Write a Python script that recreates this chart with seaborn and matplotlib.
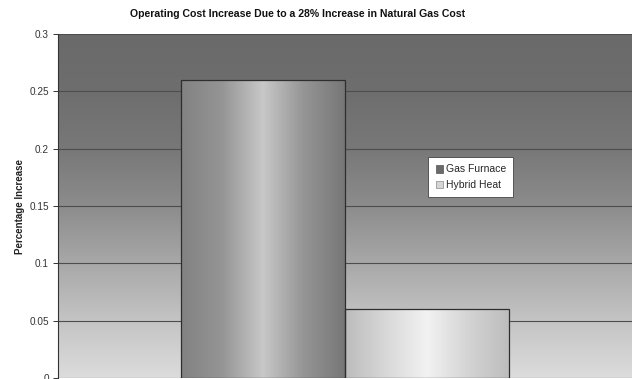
import numpy as np
import pandas as pd
import matplotlib
matplotlib.use("Agg")
import matplotlib.pyplot as plt
import seaborn as sns
from matplotlib.colors import LinearSegmentedColormap
from matplotlib.patches import Patch

title = "Operating Cost Increase Due to a 28% Increase in Natural Gas Cost"
ylabel = "Percentage Increase"
category = ["Heating", "Heating"]
systems = ["Gas Furnace", "Hybrid Heat"]
values = [0.26, 0.06]
yticks = [0, 0.05, 0.1, 0.15, 0.2, 0.25, 0.3]
ytick_labels = ["0", "0.05", "0.1", "0.15", "0.2", "0.25", "0.3"]

sns.set_theme(style="white")
plt.rcParams["font.family"] = ["Liberation Sans", "DejaVu Sans"]

fig = plt.figure(figsize=(6.32, 3.79), dpi=100)
ax = fig.add_axes([58 / 632, 1 / 379, 574 / 632, 344 / 379])

df = pd.DataFrame({"cat": category, "system": systems, "value": values})
sns.barplot(data=df, x="cat", y="value", hue="system",
            palette=["#7a7a7a", "#d4d4d4"], width=0.57,
            edgecolor="#2e2e2e", linewidth=0.9, ax=ax, legend=False)

# background vertical gradient
bg_cmap = LinearSegmentedColormap.from_list(
    "bg", ["#dcdcdc", "#c4c4c4", "#a8a8a8", "#8c8c8c", "#787878", "#6e6e6e", "#6a6a6a"])
grad = np.linspace(0, 1, 256).reshape(-1, 1)
ax.imshow(grad, extent=[0, 1, 0, 1], transform=ax.transAxes, origin="lower",
          cmap=bg_cmap, aspect="auto", zorder=-10, interpolation="bicubic")

# cylinder-like horizontal shading of bars
bar_cmaps = [
    LinearSegmentedColormap.from_list("b1", ["#828282", "#959595", "#c8c8c8", "#959595", "#777777"]),
    LinearSegmentedColormap.from_list("b2", ["#bcbcbc", "#d8d8d8", "#f2f2f2", "#d4d4d4", "#bdbdbd"]),
]
hgrad = np.linspace(0, 1, 256).reshape(1, -1)
bars = [p for p in ax.patches if p.get_height() > 0]
for p, cm in zip(bars, bar_cmaps):
    x0, w, y0, h = p.get_x(), p.get_width(), p.get_y(), p.get_height()
    im = ax.imshow(hgrad, extent=[x0, x0 + w, y0, y0 + h], cmap=cm,
                   aspect="auto", zorder=1.5, interpolation="bicubic")
    im.set_clip_path(p)
    p.set_facecolor("none")
    p.set_zorder(2)

ax.set_xlim(-0.5, 0.5)
ax.set_ylim(0, 0.3)
ax.set_yticks(yticks)
ax.set_yticklabels(ytick_labels, fontsize=7.2, color="#333333")
ax.set_xticks([])
ax.set_xlabel("")
ax.set_ylabel(ylabel, fontsize=7, fontweight="bold", color="#222222", labelpad=3)
ax.tick_params(axis="y", which="major", left=True, length=3.5, width=0.7,
               color="#333333", pad=3)
ax.yaxis.grid(True, color="#4d4d4d", linewidth=0.8)
ax.set_axisbelow(True)
for s in ["top", "right", "bottom"]:
    ax.spines[s].set_visible(False)
ax.spines["left"].set_color("#333333")
ax.spines["left"].set_linewidth(0.8)

handles = [Patch(facecolor="#6a6a6a", edgecolor="#555555", linewidth=0.5),
           Patch(facecolor="#d6d6d6", edgecolor="#888888", linewidth=0.5)]
leg = ax.legend(handles, systems, loc="upper left", bbox_to_anchor=(0.645, 0.642),
                borderaxespad=0, fontsize=7.5, frameon=True, fancybox=False,
                handlelength=0.75, handleheight=0.75, handletextpad=0.25,
                labelspacing=0.55, borderpad=0.7)
leg.get_frame().set_facecolor("white")
leg.get_frame().set_edgecolor("#444444")
leg.get_frame().set_linewidth(0.6)
leg.get_frame().set_alpha(1)

fig.text(298 / 632, 1 - 14 / 379, title, ha="center", va="center",
         fontsize=7.6, fontweight="bold", color="#111111")

fig.savefig("out.png", dpi=100, facecolor="white")
